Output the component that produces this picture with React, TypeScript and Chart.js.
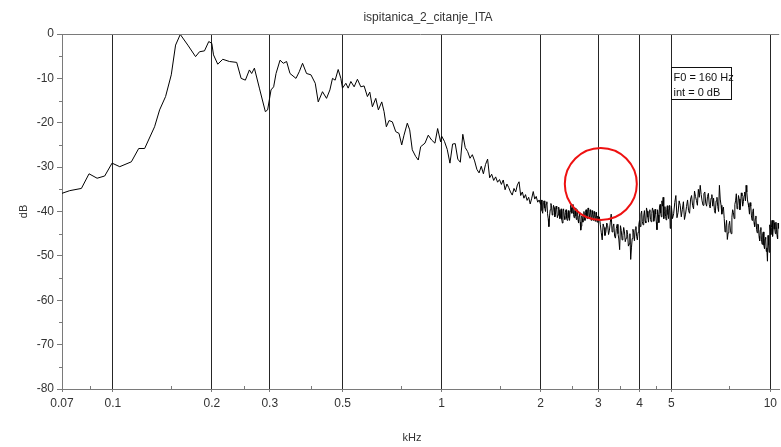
import React, { useEffect, useRef } from "react";
import { Chart, registerables } from "chart.js";

Chart.register(...registerables);

const TITLE = "ispitanica_2_citanje_ITA";
const X_LABEL = "kHz";
const Y_LABEL = "dB";
const INFO_LINES = ["F0 = 160 Hz", "int = 0 dB"];

const xMajorTicks = [0.07, 0.1, 0.2, 0.3, 0.5, 1, 2, 3, 4, 5, 10];
const xMinorTicks = [0.085, 0.15, 0.25, 0.4, 0.75, 1.5, 2.5, 3.5, 4.5, 7.5];
const yMinorTicks = [-75, -65, -55, -45, -35, -25, -15, -5];

// spectrum, 0.07 - 0.5 kHz
const freqLow = [0.07, 0.0739, 0.0802, 0.0846, 0.0895, 0.0944, 0.0994, 0.1049, 0.1138, 0.1198, 0.1249, 0.1339, 0.1387, 0.1446, 0.1505, 0.1551, 0.1603, 0.169, 0.1784, 0.1834, 0.1899, 0.1957, 0.1999, 0.2023, 0.2084, 0.2159, 0.2262, 0.238, 0.2455, 0.2529, 0.2601, 0.2643, 0.2694, 0.279, 0.2909, 0.2956, 0.3027, 0.3083, 0.3135, 0.3224, 0.3299, 0.3376, 0.3457, 0.3605, 0.3689, 0.3775, 0.3882, 0.4004, 0.4126, 0.4213, 0.4341, 0.4465, 0.4572, 0.4656, 0.4744, 0.4845, 0.4937];
const dbLow = [-35.9, -35.3, -34.8, -31.5, -32.5, -32.0, -29.1, -29.9, -28.8, -25.8, -25.8, -20.9, -17.1, -14.1, -9.2, -2.5, -0.1, -2.5, -5.1, -4.0, -3.8, -1.7, -2.1, -4.7, -6.8, -5.7, -6.2, -6.4, -10.0, -10.4, -8.1, -8.9, -7.7, -12.2, -17.5, -17.1, -12.6, -11.9, -8.9, -5.9, -6.6, -6.2, -8.9, -10.0, -8.5, -6.6, -8.9, -9.2, -11.1, -15.3, -13.0, -14.5, -12.6, -10.0, -10.4, -8.0, -10.0];

// 0.5 - 1 kHz
const freqMid = [0.4993, 0.5113, 0.5196, 0.5295, 0.5418, 0.5544, 0.5678, 0.581, 0.5946, 0.6046, 0.6157, 0.6305, 0.6421, 0.6575, 0.6682, 0.679, 0.692, 0.7081, 0.7251, 0.742, 0.7561, 0.7684, 0.7863, 0.7996, 0.8143, 0.8339, 0.8491, 0.8635, 0.8899, 0.9106, 0.9325, 0.9543, 0.9724, 0.993];
const dbMid = [-12.2, -11.1, -12.2, -10.7, -11.9, -10.2, -11.9, -11.7, -14.1, -13.1, -16.4, -14.5, -17.1, -15.3, -17.5, -20.9, -19.5, -19.8, -22.0, -22.4, -25.0, -22.8, -20.1, -21.6, -26.1, -27.6, -28.4, -25.4, -24.6, -22.8, -23.9, -24.6, -21.3, -24.3];

// 1 - 2 kHz
const freq1to2 = [1.0, 1.02, 1.04, 1.06, 1.08, 1.1, 1.12, 1.14, 1.16, 1.18, 1.2, 1.22, 1.24, 1.26, 1.28, 1.3, 1.32, 1.34, 1.36, 1.38, 1.4, 1.42, 1.44, 1.46, 1.48, 1.5, 1.52, 1.54, 1.56, 1.58, 1.6, 1.62, 1.64, 1.66, 1.68, 1.7, 1.72, 1.74, 1.76, 1.78, 1.8, 1.82, 1.84, 1.86, 1.88, 1.9, 1.92, 1.94, 1.96, 1.98];
const db1to2 = [-23.0, -24.2, -26.0, -29.1, -24.8, -24.7, -28.2, -28.9, -22.6, -25.6, -26.5, -28.0, -27.2, -28.6, -30.5, -31.3, -29.8, -31.5, -29.4, -28.2, -32.4, -31.6, -33.0, -32.2, -33.4, -32.8, -33.9, -32.9, -35.1, -33.8, -34.6, -35.6, -36.3, -34.8, -35.6, -34.0, -33.3, -36.4, -35.6, -37.0, -36.2, -37.5, -36.8, -38.3, -37.0, -35.5, -37.2, -36.6, -37.9, -37.4];

// 2 - 3 kHz (even bins)
const freq2to3 = [2.0, 2.02, 2.04, 2.06, 2.08, 2.1, 2.12, 2.14, 2.16, 2.18, 2.2, 2.22, 2.24, 2.26, 2.28, 2.3, 2.32, 2.34, 2.36, 2.38, 2.4, 2.42, 2.44, 2.46, 2.48, 2.5, 2.52, 2.54, 2.56, 2.58, 2.6, 2.62, 2.64, 2.66, 2.68, 2.7, 2.72, 2.74, 2.76, 2.78, 2.8, 2.82, 2.84, 2.86, 2.88, 2.9, 2.92, 2.94, 2.96, 2.98];
const db2to3 = [-38.4, -39.8, -38.0, -39.2, -38.3, -40.5, -43.4, -39.6, -38.7, -40.3, -39.1, -40.6, -39.4, -40.8, -39.7, -41.0, -41.8, -40.0, -41.1, -40.2, -41.5, -40.6, -41.4, -40.0, -39.2, -39.0, -40.7, -39.8, -41.0, -40.3, -41.9, -41.0, -42.4, -43.3, -41.6, -40.8, -41.5, -40.2, -40.9, -39.9, -39.6, -41.0, -40.2, -41.4, -40.5, -41.3, -40.6, -41.6, -40.9, -41.8];
// 2 - 3 kHz (odd bins)
const freq2to3b = [2.01, 2.03, 2.05, 2.07, 2.09, 2.11, 2.13, 2.15, 2.17, 2.19, 2.21, 2.23, 2.25, 2.27, 2.29, 2.31, 2.33, 2.35, 2.37, 2.39, 2.41, 2.43, 2.45, 2.47, 2.49, 2.51, 2.53, 2.55, 2.57, 2.59, 2.61, 2.63, 2.65, 2.67, 2.69, 2.71, 2.73, 2.75, 2.77, 2.79, 2.81, 2.83, 2.85, 2.87, 2.89, 2.91, 2.93, 2.95, 2.97, 2.99];
const db2to3b = [-37.4, -40.4, -37.6, -40.0, -37.8, -41.6, -41.0, -38.2, -40.8, -38.6, -41.2, -38.8, -41.4, -39.0, -41.6, -39.4, -42.6, -39.4, -41.8, -39.6, -42.0, -39.8, -42.0, -38.6, -40.4, -38.4, -41.4, -39.2, -41.8, -39.6, -42.6, -40.2, -44.2, -41.0, -42.4, -40.0, -42.0, -39.6, -41.6, -39.2, -41.6, -39.6, -42.0, -39.8, -42.0, -40.0, -42.2, -40.2, -42.4, -41.0];

// 3 - 5 kHz (even bins)
const freq3to5 = [3.0, 3.04, 3.08, 3.12, 3.16, 3.2, 3.24, 3.28, 3.32, 3.36, 3.4, 3.44, 3.48, 3.52, 3.56, 3.6, 3.64, 3.68, 3.72, 3.76, 3.8, 3.84, 3.88, 3.92, 3.96, 4.0, 4.04, 4.08, 4.12, 4.16, 4.2, 4.24, 4.28, 4.32, 4.36, 4.4, 4.44, 4.48, 4.52, 4.56, 4.6, 4.64, 4.68, 4.72, 4.76, 4.8, 4.84, 4.88, 4.92, 4.96];
const db3to5 = [-42.0, -43.0, -46.4, -43.6, -44.6, -43.2, -44.2, -40.6, -43.5, -45.6, -43.8, -45.0, -48.6, -44.3, -45.4, -44.6, -46.0, -45.2, -47.3, -50.8, -46.1, -44.8, -44.0, -45.6, -44.7, -42.0, -40.6, -42.3, -41.0, -42.1, -39.2, -41.3, -40.1, -41.8, -40.4, -39.8, -41.5, -40.6, -44.1, -40.8, -39.0, -40.3, -37.6, -36.8, -40.2, -41.1, -39.6, -40.7, -39.5, -43.8];
// 3 - 5 kHz (odd bins)
const freq3to5b = [3.02, 3.06, 3.1, 3.14, 3.18, 3.22, 3.26, 3.3, 3.34, 3.38, 3.42, 3.46, 3.5, 3.54, 3.58, 3.62, 3.66, 3.7, 3.74, 3.78, 3.82, 3.86, 3.9, 3.94, 3.98, 4.02, 4.06, 4.1, 4.14, 4.18, 4.22, 4.26, 4.3, 4.34, 4.38, 4.42, 4.46, 4.5, 4.54, 4.58, 4.62, 4.66, 4.7, 4.74, 4.78, 4.82, 4.86, 4.9, 4.94, 4.98];
const db3to5b = [-41.2, -44.8, -42.8, -45.4, -42.6, -45.2, -42.4, -44.6, -42.8, -46.0, -42.9, -46.2, -43.2, -46.4, -43.6, -46.8, -44.2, -47.8, -45.0, -48.2, -44.0, -46.6, -43.4, -46.4, -43.0, -43.4, -39.9, -43.0, -39.8, -42.6, -39.9, -42.4, -39.6, -42.3, -39.2, -42.2, -39.5, -42.4, -39.6, -42.5, -38.4, -41.2, -38.8, -41.6, -38.9, -41.9, -38.7, -41.6, -38.6, -41.0];

// 5 - 10.6 kHz (even bins)
const freq5to10 = [5.0, 5.08, 5.16, 5.24, 5.32, 5.4, 5.48, 5.56, 5.64, 5.72, 5.8, 5.88, 5.96, 6.04, 6.12, 6.2, 6.28, 6.36, 6.44, 6.52, 6.6, 6.68, 6.76, 6.84, 6.92, 7.0, 7.08, 7.16, 7.24, 7.32, 7.4, 7.48, 7.56, 7.64, 7.72, 7.8, 7.88, 7.96, 8.04, 8.12, 8.2, 8.28, 8.36, 8.44, 8.52, 8.6, 8.68, 8.76, 8.84, 8.92, 9.0, 9.08, 9.16, 9.24, 9.32, 9.4, 9.48, 9.56, 9.64, 9.72, 9.8, 9.88, 9.96, 10.04, 10.12, 10.2, 10.28, 10.36, 10.44, 10.52, 10.6];
const db5to10 = [-38.8, -40.5, -36.4, -40.2, -38.6, -39.5, -41.8, -38.9, -39.8, -37.2, -38.6, -35.4, -37.5, -35.0, -34.1, -37.6, -36.0, -38.1, -36.6, -38.4, -37.0, -38.8, -39.8, -37.6, -38.9, -34.1, -38.6, -39.5, -41.6, -43.5, -46.3, -43.1, -44.2, -41.3, -40.2, -38.4, -36.0, -38.7, -37.2, -38.3, -36.5, -37.8, -35.6, -34.1, -37.4, -39.0, -38.0, -41.0, -40.0, -42.5, -41.6, -44.0, -42.8, -45.6, -44.2, -46.4, -45.0, -47.6, -46.2, -49.0, -51.2, -47.5, -43.0, -45.2, -42.0, -43.8, -42.6, -45.0, -44.0, -46.2, -43.8];
// 5 - 10.6 kHz (odd bins)
const freq5to10b = [5.04, 5.12, 5.2, 5.28, 5.36, 5.44, 5.52, 5.6, 5.68, 5.76, 5.84, 5.92, 6.0, 6.08, 6.16, 6.24, 6.32, 6.4, 6.48, 6.56, 6.64, 6.72, 6.8, 6.88, 6.96, 7.04, 7.12, 7.2, 7.28, 7.36, 7.44, 7.52, 7.6, 7.68, 7.76, 7.84, 7.92, 8.0, 8.08, 8.16, 8.24, 8.32, 8.4, 8.48, 8.56, 8.64, 8.72, 8.8, 8.88, 8.96, 9.04, 9.12, 9.2, 9.28, 9.36, 9.44, 9.52, 9.6, 9.68, 9.76, 9.84, 9.92, 10.0, 10.08, 10.16, 10.24, 10.32, 10.4, 10.48, 10.56];
const db5to10b = [-41.6, -38.0, -41.4, -37.6, -41.2, -37.8, -40.6, -37.4, -40.4, -36.4, -39.4, -36.6, -38.6, -36.8, -36.2, -38.6, -35.6, -38.8, -35.9, -39.2, -36.2, -37.0, -40.4, -36.8, -40.0, -37.2, -40.6, -39.0, -44.6, -42.0, -44.8, -42.2, -45.0, -39.6, -41.6, -37.6, -39.4, -36.4, -39.6, -35.8, -38.8, -36.4, -37.6, -35.6, -38.2, -40.6, -38.8, -42.0, -39.4, -43.4, -41.0, -44.8, -43.0, -46.6, -43.6, -47.4, -44.6, -48.4, -45.8, -48.2, -45.4, -49.2, -44.0, -43.6, -45.6, -42.0, -44.0, -42.4, -45.4, -42.6];

// red marker circle (centre in data units)
const markerFreq = 3.05;
const markerDb = -33.8;

const FAMILY = '"Liberation Sans", Arial, sans-serif';
const AXIS_COLOR = "#7a7a7a";
const GRID_COLOR = "#262626";
const TEXT_COLOR = "#333333";

function pairs(fs: number[], ds: number[]) {
  return fs.map((f, i) => ({ x: f, y: ds[i] }));
}

const decorPlugin = {
  id: "decor",
  afterDraw(chart: any) {
    const { ctx, chartArea, scales } = chart;
    const xs = scales.x;
    const ys = scales.y;
    ctx.save();
    ctx.lineWidth = 1;
    ctx.strokeStyle = AXIS_COLOR;
    // top frame line
    ctx.beginPath();
    ctx.moveTo(chartArea.left, Math.round(chartArea.top) + 0.5);
    ctx.lineTo(chartArea.right, Math.round(chartArea.top) + 0.5);
    ctx.stroke();
    // minor x ticks (inside)
    ctx.beginPath();
    xMinorTicks.forEach((v) => {
      const px = Math.round(xs.getPixelForValue(v)) + 0.5;
      ctx.moveTo(px, chartArea.bottom);
      ctx.lineTo(px, chartArea.bottom - 3);
    });
    // minor y ticks (outside)
    yMinorTicks.forEach((v) => {
      const py = Math.round(ys.getPixelForValue(v)) + 0.5;
      ctx.moveTo(chartArea.left - 3, py);
      ctx.lineTo(chartArea.left, py);
    });
    ctx.stroke();

    // title and x label
    ctx.fillStyle = TEXT_COLOR;
    ctx.textAlign = "center";
    ctx.textBaseline = "middle";
    ctx.font = `12px ${FAMILY}`;
    ctx.fillText(TITLE, 428, 18);
    ctx.font = `11px ${FAMILY}`;
    ctx.fillText(X_LABEL, 412, 438);

    // info box anchored at 5 kHz / -7.5 dB
    const bx = Math.round(xs.getPixelForValue(5)) + 0.5;
    const by = Math.round(ys.getPixelForValue(-7.5)) + 0.5;
    const bw = 60;
    const bh = 32;
    ctx.fillStyle = "#ffffff";
    ctx.fillRect(bx, by, bw, bh);
    ctx.strokeStyle = "#111111";
    ctx.strokeRect(bx, by, bw, bh);
    ctx.fillStyle = "#111111";
    ctx.textAlign = "left";
    ctx.font = `11px ${FAMILY}`;
    ctx.fillText(INFO_LINES[0], bx + 2, by + 10);
    ctx.fillText(INFO_LINES[1], bx + 2, by + 25);
    ctx.restore();
  },
};

export default function App() {
  const ref = useRef<HTMLCanvasElement | null>(null);

  useEffect(() => {
    if (!ref.current) return;
    const spectrum = [
      ...pairs(freqLow, dbLow),
      ...pairs(freqMid, dbMid),
      ...pairs(freq1to2, db1to2),
      ...pairs(freq2to3, db2to3),
      ...pairs(freq2to3b, db2to3b),
      ...pairs(freq3to5, db3to5),
      ...pairs(freq3to5b, db3to5b),
      ...pairs(freq5to10, db5to10),
      ...pairs(freq5to10b, db5to10b),
    ].sort((a, b) => a.x - b.x);
    const chart = new Chart(ref.current, {
      type: "line",
      data: {
        datasets: [
          {
            label: "marker",
            data: [{ x: markerFreq, y: markerDb }],
            showLine: false,
            pointRadius: 36,
            pointHoverRadius: 36,
            pointBorderColor: "#ee1111",
            pointBackgroundColor: "rgba(0,0,0,0)",
            pointBorderWidth: 2,
            clip: false,
            order: 0,
          },
          {
            label: "spectrum",
            data: spectrum,
            borderColor: "#000000",
            borderWidth: 1,
            pointRadius: 0,
            tension: 0,
            fill: false,
            order: 1,
          },
        ],
      },
      options: {
        responsive: false,
        devicePixelRatio: 1,
        animation: false,
        events: [],
        layout: { autoPadding: false, padding: { top: 34, left: 0, right: 0, bottom: 0 } },
        plugins: {
          legend: { display: false },
          tooltip: { enabled: false },
          title: { display: false },
        },
        scales: {
          x: {
            type: "logarithmic",
            min: 0.07,
            max: 10.64,
            afterBuildTicks: (scale: any) => {
              scale.ticks = xMajorTicks.map((value) => ({ value }));
            },
            afterFit: (scale: any) => {
              scale.height = 58;
            },
            ticks: {
              autoSkip: false,
              maxRotation: 0,
              minRotation: 0,
              color: TEXT_COLOR,
              font: { size: 12, family: FAMILY },
              padding: 4,
              callback: (v: any) => String(v),
            },
            grid: {
              drawOnChartArea: true,
              color: (c: any) =>
                c.tick && c.tick.value === xMajorTicks[0] ? "rgba(0,0,0,0)" : GRID_COLOR,
              tickColor: AXIS_COLOR,
              tickLength: 3,
              lineWidth: 1,
            },
            border: { color: AXIS_COLOR, width: 1 },
          },
          y: {
            type: "linear",
            min: -80,
            max: 0,
            afterFit: (scale: any) => {
              scale.width = 62;
            },
            ticks: {
              stepSize: 10,
              color: TEXT_COLOR,
              font: { size: 12, family: FAMILY },
              padding: 3,
            },
            grid: {
              drawOnChartArea: false,
              color: AXIS_COLOR,
              tickLength: 5,
            },
            border: { color: AXIS_COLOR, width: 1 },
            title: {
              display: true,
              text: Y_LABEL,
              color: TEXT_COLOR,
              font: { size: 11, family: FAMILY },
              padding: { top: 17, bottom: 0 },
            },
          },
        },
      },
      plugins: [decorPlugin],
    });
    return () => chart.destroy();
  }, []);

  return (
    <div style={{ position: "fixed", left: 0, top: 0, width: 781, height: 447, background: "#fff" }}>
      <canvas ref={ref} width={781} height={447} style={{ display: "block" }} />
    </div>
  );
}
